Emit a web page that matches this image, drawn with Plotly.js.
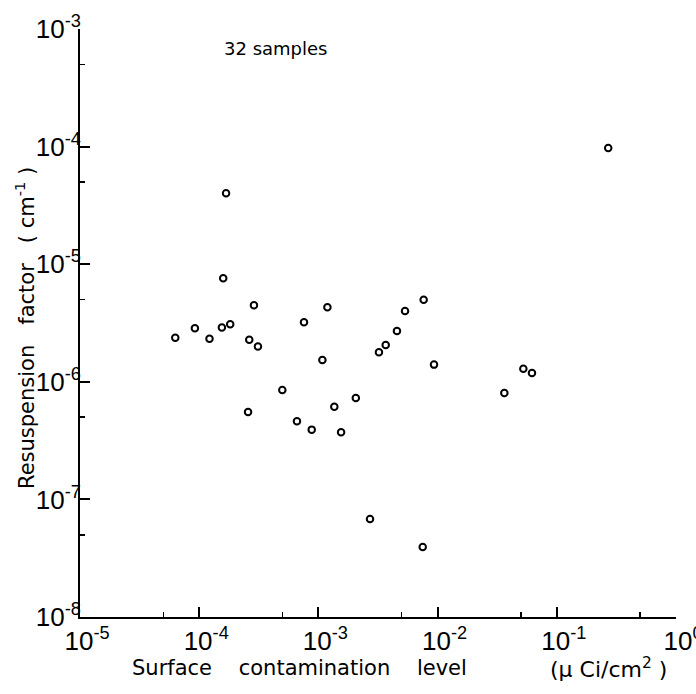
<!DOCTYPE html>
<html>
<head>
<meta charset="utf-8">
<script src="https://cdn.plot.ly/plotly-3.0.1.min.js"></script>
<style>
  html, body { margin: 0; padding: 0; background: #fff; }
  #chart { width: 696px; height: 694px; }
</style>
</head>
<body>
<div id="chart"></div>
<script>
// Surface contamination level (uCi/cm^2) for each of the 32 samples
const contamination = [
  6.3e-5, 9.2e-5, 1.22e-4, 1.55e-4, 1.68e-4, 1.59e-4, 1.82e-4, 2.88e-4,
  2.63e-4, 3.11e-4, 2.57e-4, 4.98e-4, 6.61e-4, 7.57e-4, 8.79e-4, 1.19e-3,
  1.08e-3, 1.36e-3, 1.55e-3, 2.06e-3, 2.71e-3, 3.22e-3, 3.67e-3, 4.56e-3,
  5.33e-3, 7.64e-3, 7.50e-3, 9.33e-3, 3.63e-2, 5.24e-2, 6.19e-2, 0.270
];

// Resuspension factor (cm^-1) for the same samples
const resuspension = [
  2.37e-6, 2.85e-6, 2.32e-6, 2.90e-6, 4.01e-5, 7.58e-6, 3.08e-6, 4.47e-6,
  2.28e-6, 2.00e-6, 5.53e-7, 8.51e-7, 4.61e-7, 3.21e-6, 3.92e-7, 4.30e-6,
  1.53e-6, 6.14e-7, 3.72e-7, 7.28e-7, 6.81e-8, 1.78e-6, 2.06e-6, 2.70e-6,
  4.00e-6, 4.99e-6, 3.94e-8, 1.40e-6, 8.04e-7, 1.29e-6, 1.19e-6, 9.73e-5
];

// Decade exponents used for the tick labels
const xExponents = [-5, -4, -3, -2, -1, 0];
const yExponents = [-8, -7, -6, -5, -4, -3];

const sampleNote = "32 samples";
const sp = "\u00a0";
const xTitle = ["Surface", "contamination", "level"].join(sp.repeat(4));
const xUnits = "(\u03bc" + sp + "Ci/cm<sup>2</sup>" + sp + ")";
const yTitle = "Resuspension" + sp.repeat(3) + "factor" + sp.repeat(3) + "(" + sp + "cm<sup>-1</sup>" + sp + ")";

const decadeVals = e => e.map(p => Math.pow(10, p));
const decadeText = e => e.map(p => "10<sup>" + p + "</sup>");
const halfVals = e => e.slice(0, -1).map(p => 5 * Math.pow(10, p));

const tickFont = { family: "Liberation Sans, Arial, sans-serif", size: 26, color: "#000" };
const titleFont = { family: "DejaVu Sans, sans-serif", size: 21, color: "#000" };

const trace = {
  x: contamination,
  y: resuspension,
  type: "scatter",
  mode: "markers",
  marker: {
    symbol: "circle-open",
    size: 6.5,
    color: "#000",
    line: { width: 2, color: "#000" }
  },
  hoverinfo: "x+y"
};

const axisCommon = {
  type: "log",
  showgrid: false,
  zeroline: false,
  showline: true,
  linecolor: "#000",
  linewidth: 2,
  ticks: "inside",
  ticklen: 10,
  tickwidth: 2,
  tickcolor: "#000",
  tickmode: "array",
  tickfont: tickFont,
  ticklabeloverflow: "allow",
  mirror: false
};

const minorTicks = vals => ({
  tickmode: "array", tickvals: vals, ticks: "inside",
  ticklen: 5, tickwidth: 1.5, tickcolor: "#000", showgrid: false
});

const layout = {
  width: 696,
  height: 694,
  margin: { l: 80, r: 20, t: 29, b: 77 },
  paper_bgcolor: "#fff",
  plot_bgcolor: "#fff",
  showlegend: false,
  xaxis: Object.assign({}, axisCommon, {
    range: [xExponents[0], xExponents[xExponents.length - 1]],
    tickvals: decadeVals(xExponents),
    ticktext: decadeText(xExponents),
    ticklabelstandoff: 0,
    ticklabelshift: 7,
    minor: minorTicks(halfVals(xExponents))
  }),
  yaxis: Object.assign({}, axisCommon, {
    range: [yExponents[0], yExponents[yExponents.length - 1]],
    tickvals: decadeVals(yExponents),
    ticktext: decadeText(yExponents),
    ticklabelstandoff: -8,
    minor: minorTicks(halfVals(yExponents))
  }),
  annotations: [
    {
      text: sampleNote,
      xref: "paper", yref: "paper",
      x: 0.238, y: 0.966,
      xanchor: "left", yanchor: "middle",
      showarrow: false,
      font: { family: "DejaVu Sans, sans-serif", size: 18, color: "#000" }
    },
    {
      text: xTitle,
      xref: "paper", yref: "paper",
      x: (130 - 80) / 596, y: -(668 - 617) / 588,
      xanchor: "left", yanchor: "middle",
      showarrow: false,
      font: titleFont
    },
    {
      text: xUnits,
      xref: "paper", yref: "paper",
      x: (548 - 80) / 596, y: -(668 - 617) / 588,
      xanchor: "left", yanchor: "middle",
      showarrow: false,
      font: { family: titleFont.family, size: 22, color: "#000" }
    },
    {
      text: yTitle,
      xref: "paper", yref: "paper",
      x: -(80 - 25) / 596, y: (617 - 328) / 588,
      xanchor: "center", yanchor: "middle",
      textangle: -90,
      showarrow: false,
      font: titleFont
    }
  ]
};

Plotly.newPlot("chart", [trace], layout, { staticPlot: true, displayModeBar: false });
</script>
</body>
</html>
